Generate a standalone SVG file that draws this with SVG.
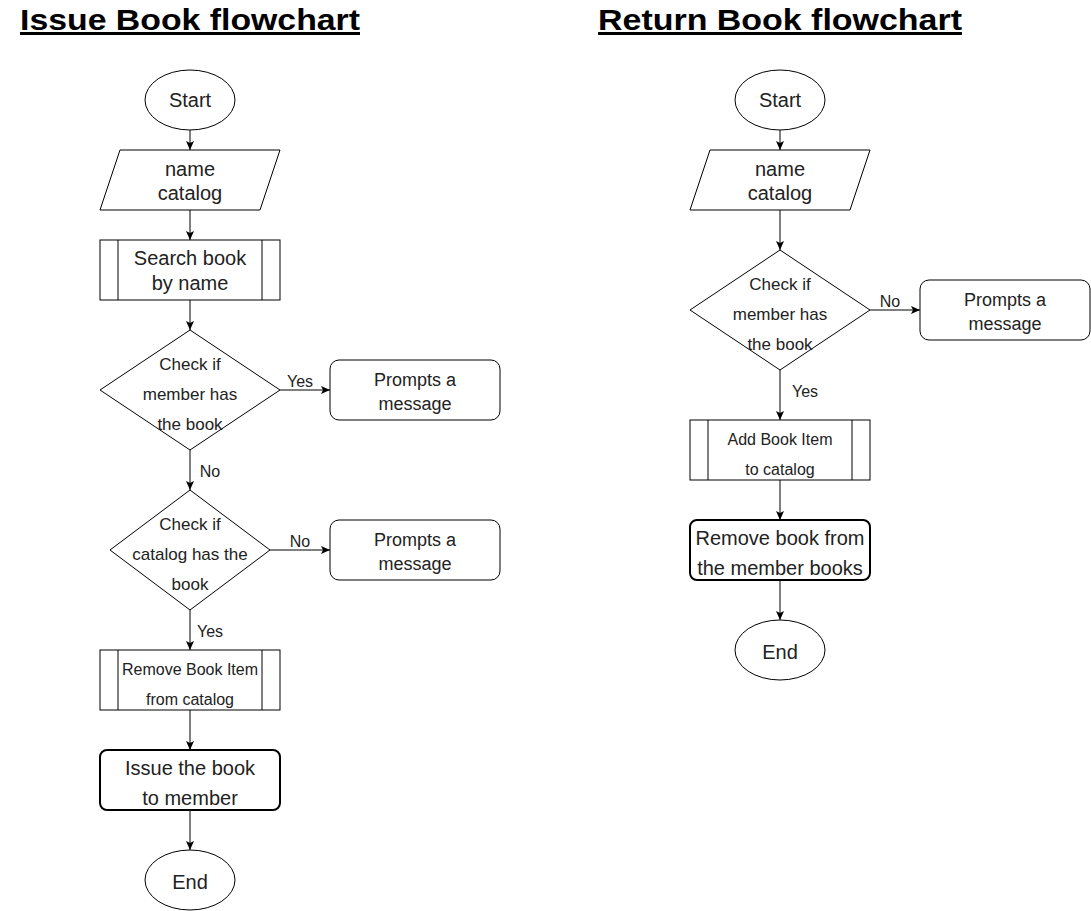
<svg xmlns="http://www.w3.org/2000/svg" width="1091" height="911" viewBox="0 0 1091 911">
<defs>
<style>
.s{fill:#fff;stroke:#000;stroke-width:1}
.b{fill:#fff;stroke:#000;stroke-width:2}
.t{font-family:"Liberation Sans",Arial,sans-serif;fill:#222;text-anchor:middle}
.f20{font-size:20px}.f18{font-size:18px}.f17{font-size:17px}.f16{font-size:16px}.f15{font-size:16px}
.title{font-family:"Liberation Sans",Arial,sans-serif;font-weight:bold;font-size:30px;fill:#000;text-decoration:underline}
.c{fill:none;stroke:#000;stroke-width:1;marker-end:url(#ar)}
</style>
<marker id="ar" markerUnits="userSpaceOnUse" markerWidth="10" markerHeight="10" viewBox="0 0 10 10" refX="9" refY="5" orient="auto">
<path d="M0,1 L9,5 L0,9 L2,5 z" fill="#000"/>
</marker>
</defs>
<rect width="1091" height="911" fill="#fff"/>
<text class="title" x="20" y="30" textLength="340" lengthAdjust="spacingAndGlyphs">Issue Book flowchart</text>
<text class="title" x="598" y="30" textLength="364" lengthAdjust="spacingAndGlyphs">Return Book flowchart</text>

<g id="connectors">
<line class="c" x1="190" y1="130" x2="190" y2="150"/>
<line class="c" x1="190" y1="210" x2="190" y2="240"/>
<line class="c" x1="190" y1="300" x2="190" y2="330"/>
<line class="c" x1="280" y1="390" x2="330" y2="390"/>
<line class="c" x1="190" y1="450" x2="190" y2="490"/>
<line class="c" x1="270" y1="550" x2="330" y2="550"/>
<line class="c" x1="190" y1="610" x2="190" y2="650"/>
<line class="c" x1="190" y1="710" x2="190" y2="750"/>
<line class="c" x1="190" y1="810" x2="190" y2="850"/>
<line class="c" x1="780" y1="130" x2="780" y2="150"/>
<line class="c" x1="780" y1="210" x2="780" y2="250"/>
<line class="c" x1="870" y1="310" x2="920" y2="310"/>
<line class="c" x1="780" y1="370" x2="780" y2="420"/>
<line class="c" x1="780" y1="480" x2="780" y2="520"/>
<line class="c" x1="780" y1="580" x2="780" y2="620"/>
<text class="t f15" x="300" y="387">Yes</text>
<text class="t f15" x="210" y="477">No</text>
<text class="t f15" x="300" y="547">No</text>
<text class="t f15" x="210" y="637">Yes</text>
<text class="t f15" x="890" y="307">No</text>
<text class="t f15" x="805" y="397">Yes</text>
</g>

<g id="issue-start"><ellipse class="s" cx="190" cy="100" rx="45" ry="30"/><text class="t f20" x="190" y="107">Start</text></g>
<g id="issue-input"><polygon class="s" points="120,150 280,150 260,210 100,210"/><text class="t f20" x="190" y="176">name</text><text class="t f20" x="190" y="200">catalog</text></g>
<g id="issue-search"><rect class="s" x="100" y="240" width="180" height="60"/><line class="s" x1="118" y1="240" x2="118" y2="300"/><line class="s" x1="262" y1="240" x2="262" y2="300"/><text class="t f20" x="190" y="265">Search book</text><text class="t f20" x="190" y="290">by name</text></g>
<g id="issue-check-member"><polygon class="s" points="190,330 280,390 190,450 100,390"/><text class="t f17" x="190" y="370">Check if</text><text class="t f17" x="190" y="400">member has</text><text class="t f17" x="190" y="430">the book</text></g>
<g id="issue-prompt1"><rect class="s" x="330" y="360" width="170" height="60" rx="9"/><text class="t f18" x="415" y="386">Prompts a</text><text class="t f18" x="415" y="410">message</text></g>
<g id="issue-check-catalog"><polygon class="s" points="190,490 270,550 190,610 110,550"/><text class="t f17" x="190" y="530">Check if</text><text class="t f17" x="190" y="560">catalog has the</text><text class="t f17" x="190" y="590">book</text></g>
<g id="issue-prompt2"><rect class="s" x="330" y="520" width="170" height="60" rx="9"/><text class="t f18" x="415" y="546">Prompts a</text><text class="t f18" x="415" y="570">message</text></g>
<g id="issue-remove"><rect class="s" x="100" y="650" width="180" height="60"/><line class="s" x1="118" y1="650" x2="118" y2="710"/><line class="s" x1="262" y1="650" x2="262" y2="710"/><text class="t f16" x="190" y="675">Remove Book Item</text><text class="t f16" x="190" y="705">from catalog</text></g>
<g id="issue-issue"><rect class="b" x="100" y="750" width="180" height="60" rx="7"/><text class="t f20" x="190" y="775">Issue the book</text><text class="t f20" x="190" y="805">to member</text></g>
<g id="issue-end"><ellipse class="s" cx="190" cy="880" rx="45" ry="30"/><text class="t f20" x="190" y="889">End</text></g>

<g id="return-start"><ellipse class="s" cx="780" cy="100" rx="45" ry="30"/><text class="t f20" x="780" y="107">Start</text></g>
<g id="return-input"><polygon class="s" points="710,150 870,150 850,210 690,210"/><text class="t f20" x="780" y="176">name</text><text class="t f20" x="780" y="200">catalog</text></g>
<g id="return-check-member"><polygon class="s" points="780,250 870,310 780,370 690,310"/><text class="t f17" x="780" y="290">Check if</text><text class="t f17" x="780" y="320">member has</text><text class="t f17" x="780" y="350">the book</text></g>
<g id="return-prompt"><rect class="s" x="920" y="280" width="170" height="60" rx="9"/><text class="t f18" x="1005" y="306">Prompts a</text><text class="t f18" x="1005" y="330">message</text></g>
<g id="return-add"><rect class="s" x="690" y="420" width="180" height="60"/><line class="s" x1="708" y1="420" x2="708" y2="480"/><line class="s" x1="852" y1="420" x2="852" y2="480"/><text class="t f16" x="780" y="445">Add Book Item</text><text class="t f16" x="780" y="475">to catalog</text></g>
<g id="return-remove"><rect class="b" x="690" y="520" width="180" height="60" rx="7"/><text class="t f20" x="780" y="545">Remove book from</text><text class="t f20" x="780" y="575">the member books</text></g>
<g id="return-end"><ellipse class="s" cx="780" cy="650" rx="45" ry="30"/><text class="t f20" x="780" y="659">End</text></g>
</svg>
